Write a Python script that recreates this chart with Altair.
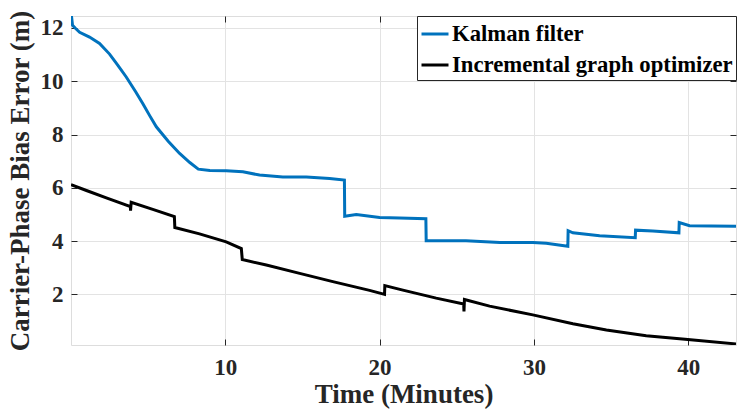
import altair as alt
import pandas as pd

# ---- data ----
series_names = ["Kalman filter", "Incremental graph optimizer"]
series_colors = ["#0072BD", "#000000"]

kf_t = [0.0, 0.1, 0.3, 0.56, 1.2, 1.85, 2.5, 3.04, 3.58, 4.2, 4.66, 5.09, 5.53, 6.3, 7.04, 7.7,
        8.25, 9.0, 10.06, 11.14, 12.22, 13.73, 15.25, 16.76, 17.72, 17.74, 18.49,
        20.0, 21.3, 23.0, 23.02, 25.6, 27.8, 29.94, 30.8, 32.2, 32.22, 32.53, 34.26,
        36.57, 36.59, 37.71, 39.4, 39.42, 40.09, 41.5, 43.1]
kf_e = [12.6, 12.1, 11.98, 11.84, 11.66, 11.42, 11.02, 10.6, 10.16, 9.6, 9.16, 8.72, 8.29, 7.75,
        7.29, 6.95, 6.70, 6.65, 6.64, 6.60, 6.48, 6.41, 6.41, 6.35, 6.29, 4.93, 5.0,
        4.89, 4.87, 4.84, 4.01, 4.01, 3.95, 3.95, 3.92, 3.81, 4.39, 4.31, 4.2,
        4.13, 4.41, 4.38, 4.31, 4.70, 4.58, 4.57, 4.56]

igo_t = [0.0, 1.0, 2.29, 3.85, 3.86, 3.9, 5.3, 6.7, 6.73, 8.33, 10.06, 11.04, 11.1,
         12.66, 14.82, 16.97, 19.35, 20.32, 20.34, 21.51, 23.67, 25.45, 25.47, 25.5,
         27.13, 29.93, 32.53, 34.7, 37.28, 39.98, 43.1]
igo_e = [6.12, 5.9, 5.62, 5.3, 5.14, 5.46, 5.19, 4.92, 4.51, 4.27, 3.97, 3.72, 3.31,
         3.1, 2.79, 2.48, 2.15, 2.0, 2.33, 2.16, 1.86, 1.64, 1.36, 1.81,
         1.56, 1.23, 0.9, 0.66, 0.45, 0.31, 0.14]

x_ticks = [10, 20, 30, 40]
y_ticks = [2, 4, 6, 8, 10, 12]
x_domain = [0, 43.1]
y_domain = [0.1, 12.45]

rows = []
for name, ts, es in [(series_names[0], kf_t, kf_e), (series_names[1], igo_t, igo_e)]:
    for i, (t, e) in enumerate(zip(ts, es)):
        rows.append({"series": name, "t": t, "e": e, "i": i})
df = pd.DataFrame(rows)

FONT = "Liberation Serif"
TXT = "#262626"
xscale = alt.Scale(domain=x_domain, nice=False, zero=False)
yscale = alt.Scale(domain=y_domain, nice=False, zero=False)

common_axis = dict(domain=False, ticks=True, tickColor=TXT, tickSize=6, offset=-6,
                   labelFont=FONT, labelFontSize=23, labelFontWeight="bold", labelColor=TXT,
                   titleFont=FONT, titleFontSize=27, titleFontWeight="bold", titleColor=TXT,
                   grid=True, gridColor="#e3e3e3", gridWidth=1)

lines = alt.Chart(df).mark_line(strokeWidth=3, clip=True).encode(
    x=alt.X("t:Q", scale=xscale,
            axis=alt.Axis(values=x_ticks, title="Time (Minutes)", orient="bottom",
                          labelPadding=11, titlePadding=2, **common_axis)),
    y=alt.Y("e:Q", scale=yscale,
            axis=alt.Axis(values=y_ticks, title="Carrier-Phase Bias Error (m)", orient="left",
                          labelPadding=8, titlePadding=6, **common_axis)),
    color=alt.Color("series:N",
                    scale=alt.Scale(domain=series_names, range=series_colors),
                    legend=alt.Legend(title=None, orient="top-right", offset=0,
                                      strokeColor=TXT, fillColor="white", padding=3,
                                      symbolType="stroke", symbolStrokeWidth=3, symbolSize=729,
                                      labelFont=FONT, labelFontSize=22.7, labelFontWeight="bold",
                                      labelColor="#000000", labelLimit=1000, labelOffset=2,
                                      rowPadding=4, cornerRadius=0)),
    order="i:Q",
)

frame_axis = dict(domain=False, ticks=True, tickColor=TXT, tickSize=6, offset=-6,
                  labels=False, title=None, grid=False)
frame = alt.Chart(df).mark_line(strokeOpacity=0).encode(
    x=alt.X("t:Q", scale=xscale, axis=alt.Axis(values=x_ticks, orient="top", **frame_axis)),
    y=alt.Y("e:Q", scale=yscale, axis=alt.Axis(values=y_ticks, orient="right", **frame_axis)),
    detail="series:N",
    order="i:Q",
)

chart = alt.layer(lines, frame).resolve_axis(x="independent", y="independent").properties(
    width=665, height=329,
    padding={"left": 71, "top": 16, "right": 1, "bottom": 68},
    autosize="none",
).configure_view(stroke="#4d4d4d", strokeWidth=1).configure(background="white")

chart.save("out.html", embed_options={"renderer": "svg", "actions": False})
